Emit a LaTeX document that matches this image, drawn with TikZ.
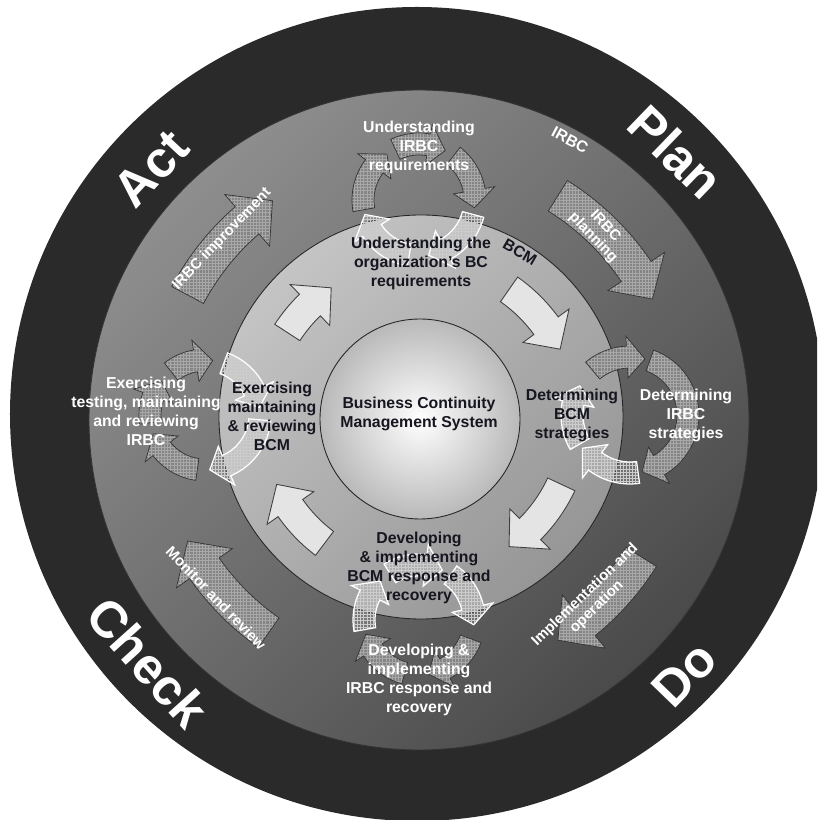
\documentclass[tikz,border=0pt]{standalone}
\usepackage{fontspec}
\setmainfont{Liberation Sans}
\usetikzlibrary{patterns}

\definecolor{ringdark}{HTML}{2A2A2A}
\definecolor{irbctop}{HTML}{8E8E8E}
\definecolor{irbcbot}{HTML}{4A4A4A}
\definecolor{bcmtop}{HTML}{C4C4C4}
\definecolor{bcmbot}{HTML}{969696}
\definecolor{bcmfill}{HTML}{E4E4E4}
\definecolor{hatchgray}{HTML}{858585}
\definecolor{hatchline}{HTML}{A8A8A8}
\definecolor{labeldark}{HTML}{161620}

% fine mesh for the hatched arrows
\pgfdeclarepatternformonly{finegrid}{\pgfqpoint{-1pt}{-1pt}}{\pgfqpoint{2.6pt}{2.6pt}}{\pgfqpoint{1.8pt}{1.8pt}}
{\pgfsetlinewidth{0.35pt}
 \pgfpathmoveto{\pgfqpoint{0pt}{0pt}}\pgfpathlineto{\pgfqpoint{1.9pt}{0pt}}
 \pgfpathmoveto{\pgfqpoint{0pt}{0pt}}\pgfpathlineto{\pgfqpoint{0pt}{1.9pt}}
 \pgfusepath{stroke}}

% #1 style, #2 centre, #3 radius, #4 half width, #5 start, #6 neck, #7 tip
\newcommand{\bandarrow}[7]{%
  \path[#1] ([shift={(#2)}]#5:#3+#4) arc[start angle=#5, end angle=#6, radius=#3+#4]
    -- ([shift={(#2)}]#6:#3+1.9*#4) -- ([shift={(#2)}]#7:#3)
    -- ([shift={(#2)}]#6:#3-1.9*#4) -- ([shift={(#2)}]#6:#3-#4)
    arc[start angle=#6, end angle=#5, radius=#3-#4] -- cycle;}

\begin{document}
\begin{tikzpicture}[x=0.02cm, y=0.02cm,
    bcmarrow/.style={fill=bcmfill, draw=black!75, line width=0.5pt},
    irbcarrow/.style={preaction={fill=hatchgray}, pattern=finegrid, pattern color=hatchline, draw=black!80, line width=0.4pt},
    bcmloop/.style={preaction={fill=white, fill opacity=0.15}, pattern=finegrid, pattern color=white!60!gray, draw=white, line width=0.7pt},
    lightlbl/.style={text=white, font=\bfseries\fontsize{9}{10.8}\selectfont, align=center, inner sep=0pt},
    darklbl/.style={text=labeldark, font=\bfseries\fontsize{9}{10.8}\selectfont, align=center, inner sep=0pt},
    arclbl/.style={lightlbl, font=\bfseries\fontsize{8.5}{9.6}\selectfont},
    phase/.style={text=white, font=\bfseries\fontsize{29}{32}\selectfont, inner sep=0pt}]
  \useasboundingbox (-419,-402) rectangle (398,418);
  \clip (-419,-402) rectangle (398,418);
  \fill[white] (-419,-402) rectangle (398,418);

  % Draw the rings
  \fill[ringdark] (-2,4) circle (407);
  \shade[top color=irbctop, bottom color=irbcbot, shading angle=45] (0,-2) circle (330);
  \draw[black!80, line width=0.5pt] (0,-2) circle (330);

  % IRBC phase arrows
  \foreach \s/\n/\t in {152/131/124, 58/34/27, -32/-51/-58, -125/-145/-152}
    \bandarrow{irbcarrow}{0,0}{262}{18}{\s}{\n}{\t};

  \shade[top color=bcmtop, bottom color=bcmbot, shading angle=45] (2,1) circle (202);
  \draw[black!85, line width=0.5pt] (2,1) circle (202);

  % BCM cycle arrows
  \foreach \s/\n/\t in {55/36/26, -25/-45/-55, -127/-145/-155, 147/134/124}
    \bandarrow{bcmarrow}{0,0}{157}{15}{\s}{\n}{\t};

  \shade[inner color=white, outer color=gray!55] (1,-1) circle (100);
  \draw[black!85, line width=0.5pt] (1,-1) circle (100);

  % Small loops where BCM and IRBC meet
  \foreach \s/\n/\t in {190/143/125, 115/80/62, 52/10/-8}
    \bandarrow{irbcarrow}{0,218}{56}{11}{\s}{\n}{\t};
  \foreach \s/\n/\t in {-15/-62/-80, -100/-147/-165}
    \bandarrow{bcmloop}{0,218}{56}{11}{\s}{\n}{\t};

  \foreach \s/\n/\t in {130/93/75, 70/-60/-78}
    \bandarrow{irbcarrow}{211,3}{58}{11}{\s}{\n}{\t};
  \foreach \s/\n/\t in {-82/-127/-145, 210/168/150}
    \bandarrow{bcmloop}{211,3}{58}{11}{\s}{\n}{\t};

  \foreach \s/\n/\t in {-20/-62/-80, -105/-147/-165}
    \bandarrow{irbcarrow}{0,-202}{55}{11}{\s}{\n}{\t};
  \foreach \s/\n/\t in {190/153/135, 122/83/65, 55/13/-5}
    \bandarrow{bcmloop}{0,-202}{55}{11}{\s}{\n}{\t};

  \foreach \s/\n/\t in {188/160/142, 128/100/82, -98/-142/-160}
    \bandarrow{irbcarrow}{-214,3}{55}{11}{\s}{\n}{\t};
  \foreach \s/\n/\t in {70/26/8, -5/-67/-85}
    \bandarrow{bcmloop}{-214,3}{55}{11}{\s}{\n}{\t};

  % BCM texts
  \node[darklbl] (bcms) at (0,4) {Business Continuity\\Management System};
  \node[darklbl] (bcmreq) at (2,155) {Understanding the\\organization’s BC\\requirements};
  \node[darklbl] (bcmstrat) at (153,3) {Determining\\BCM\\strategies};
  \node[darklbl] (bcmdev) at (0,-150) {Developing\\\& implementing\\BCM response and\\recovery};
  \node[darklbl] (bcmex) at (-147,2) {Exercising\\maintaining\\\& reviewing\\BCM};
  \node[darklbl, rotate=-30] (bcmtag) at (101,166) {BCM};

  % IRBC texts
  \node[lightlbl] (irbcreq) at (0,271) {Understanding\\IRBC\\requirements};
  \node[lightlbl] (irbcstrat) at (267,3) {Determining\\IRBC\\strategies};
  \node[lightlbl] (irbcdev) at (0,-262) {Developing \&\\implementing\\IRBC response and\\recovery};
  \node[lightlbl] (irbcex) at (-273,7) {Exercising\\testing, maintaining\\and reviewing\\IRBC};
  \node[lightlbl, rotate=-28] (irbctag) at (151,278) {IRBC};
  \node[arclbl, rotate=46] (improve) at (-197,179) {IRBC improvement};
  \node[arclbl, rotate=-46] (planning) at (180,186) {IRBC\\planning};
  \node[arclbl, rotate=44] (implement) at (172,-183) {Implementation and\\operation};
  \node[arclbl, rotate=-46] (monitor) at (-203,-180) {Monitor and review};

  % PDCA words
  \node[phase, rotate=-44] (plan) at (46:370) {Plan};
  \node[phase, rotate=46] (do) at (-44:369) {Do};
  \node[phase, rotate=-48] (check) at (-138:365) {Check};
  \node[phase, rotate=47] (act) at (137:366) {Act};
\end{tikzpicture}
\end{document}
